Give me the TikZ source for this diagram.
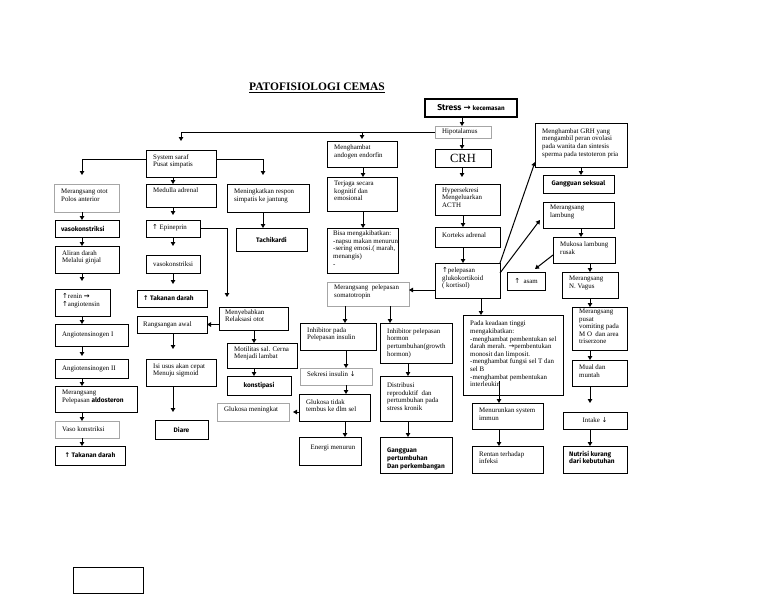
\documentclass[tikz,border=0pt]{standalone}
\usepackage{fontspec}
\setmainfont{Liberation Serif}
\newfontfamily\djf{DejaVu Sans}
\newfontfamily\fancyf{Fira Sans}
\usetikzlibrary{arrows.meta}
\newcommand\up{{\djf ↑}}
\newcommand\dn{{\djf ↓}}
\newcommand\rt{{\djf →}}
\newcommand\brt{{\djf\bfseries →}}
\newcommand\fb{\fancyf\bfseries\fontsize{6.5}{7.6}\selectfont}
\tikzset{
  box/.style={draw,line width=1pt,inner sep=0pt,outer sep=0pt},
  txt/.style={inner sep=0pt,align=left,font=\fontsize{6.9}{7.6}\selectfont},
  arr/.style={line width=1pt,-{Triangle[length=4pt,width=4.5pt]}},
  ln/.style={line width=1pt}
}
% #1 node opts, #2 label opts, #3 name, #4 x1, #5 y1, #6 x2, #7 y2, #8 text
\NewDocumentCommand\bx{O{}O{}mmmmmm}{%
  \pgfmathsetmacro\bw{#6-#4}\pgfmathsetmacro\bh{#7-#5}%
  \node[box,minimum width=\bw pt,minimum height=\bh pt,anchor=north west,
    label={[txt,anchor=west,xshift=7pt,yshift=2pt,#2]west:{#8}},#1] (#3) at (#4,#5) {};}
\NewDocumentCommand\bc{O{}O{}mmmmmm}{%
  \pgfmathsetmacro\bw{#6-#4}\pgfmathsetmacro\bh{#7-#5}%
  \node[box,minimum width=\bw pt,minimum height=\bh pt,anchor=north west,
    label={[txt,align=center,#2]center:{#8}},#1] (#3) at (#4,#5) {};}
\NewDocumentCommand\va{O{}mmm}{\coordinate (vx) at (#4,0); \draw[arr,#1] (#2.south -| vx) -- (#3.north -| vx);}
\begin{document}
\begin{tikzpicture}[x=1pt,y=-1pt]
\fill[white] (0,0) rectangle (768,594);
\useasboundingbox (0,0) rectangle (768,594);

\node[font=\bfseries\fontsize{11.5}{13}\selectfont,inner sep=0pt] (title) at (317,88) {\underline{PATOFISIOLOGI CEMAS}};

% right column
\bc[line width=1.6pt]{str}{425}{99}{517}{117}{{\fb\fontsize{8.5}{9}\selectfont Stress \brt\ {\fontsize{6.3}{6.5}\selectfont kecemasan}}}
\bx[draw=gray!70][yshift=-2pt]{hipo}{435}{126}{491}{138}{Hipotalamus}
\bc{crh}{435}{149}{491}{167}{{\fontsize{12.5}{13}\selectfont CRH}}
\bx{hyp}{435}{184}{500}{215}{Hypersekresi\\Mengeluarkan\\ACTH}
\bx{kor}{435}{227}{500}{247}{Korteks adrenal}
\bx{glk}{435}{263}{500}{298}{\up pelepasan\\glukokortikoid\\( kortisol)}
\bx{grh}{535}{123}{627}{167}{Menghambat GRH yang\\mengambil peran ovolasi\\pada wanita dan sintesis\\sperma pada testoteron pria}
\bc[][font=\fb]{gsk}{543}{175}{614}{193}{Gangguan seksual}
\bx[][yshift=1pt]{mlb}{543}{202}{614}{228}{Merangsang\\lambung}
\bx{muk}{553}{237}{615}{263}{Mukosa lambung\\rusak}
\bc{asam}{507}{272}{545}{290}{\up\ \ asam}
\bx{vag}{562}{272}{618}{298}{Merangsang\\N. Vagus}
\bx{vom}{572}{307}{627}{350}{Merangsang\\pusat\\vomiting pada\\M O~ dan area\\triserzone}
\bx{mual}{572}{360}{627}{386}{Mual dan\\muntah}
\bc{int}{563}{412}{627}{429}{Intake \dn}
\bx[][xshift=-1pt,font=\fb]{nut}{563}{446}{627}{473}{Nutrisi kurang\\dari kebutuhan}
\bx[][yshift=-1pt]{pada}{463}{315}{563}{395}{Pada keadaan tinggi\\mengakibatkan:\\-menghambat pembentukan sel\\darah merah. \rt pembentukan\\monosit dan limposit.\\-menghambat fungsi sel T dan\\sel B\\-menghambat pembentukan\\interleukin}
\bx{men}{472}{403}{543}{429}{Menurunkan system\\immun}
\bx{rtn}{472}{446}{543}{473}{Rentan terhadap\\infeksi}

% middle column
\bx{mae}{327}{141}{397}{167}{Menghambat\\andogen endorfin}
\bx[][yshift=1pt]{ter}{327}{177}{397}{211}{Terjaga secara\\kognitif dan\\emosional}
\bx[][xshift=-1pt]{bisa}{327}{228}{398}{273}{Bisa mengakibatkan:\\-napsu makan menurun\\-sering emosi.( marah,\\menangis)\\-}
\bx[draw=gray!70]{msom}{327}{282}{409}{306}{Merangsang~~pelepasan\\somatotropin}
\bx{inp}{300}{323}{376}{350}{Inhibitor pada\\Pelepasan insulin}
\bx[][yshift=-2pt]{inh}{380}{323}{452}{363}{Inhibitor pelepasan\\hormon\\pertumbuhan(growth\\hormon)}
\bx[draw=gray!70]{sek}{300}{368}{372}{385}{Sekresi insulin \dn}
\bx{glt}{299}{394}{370}{421}{Glukosa tidak\\tembus ke dlm sel}
\bx[draw=gray!70]{glm}{217}{403}{289}{421}{Glukosa meningkat}
\bc[][yshift=3pt,xshift=3pt]{ene}{299}{437}{361}{465}{Energi menurun}
\bx{dis}{380}{376}{452}{421}{Distribusi\\reproduktif~ dan\\pertumbuhan pada\\stress kronik}
\bx[][yshift=-6pt,font=\fb]{gpt}{380}{437}{452}{473}{Gangguan\\pertumbuhan\\Dan perkembangan}

% left part
\bx{sss}{146}{150}{216}{177}{System saraf\\Pusat simpatis}
\bx[draw=gray!70][yshift=1pt]{mo}{54}{184}{119}{212}{Merangsang otot\\Polos anterior}
\bx[][yshift=3pt]{med}{146}{184}{216}{207}{Medulla adrenal}
\bx{mening}{227}{184}{309}{212}{Meningkatkan respon\\simpatis ke jantung}
\bc[][font=\fb]{tach}{236}{228}{307}{251}{Tachikardi}
\bx[][xshift=-1pt,yshift=-2pt,font=\fb]{vk1}{55}{220}{119}{237}{vasokonstriksi}
\bx{ali}{55}{246}{119}{273}{Aliran darah\\Melalui ginjal}
\bx{rnn}{55}{289}{110}{316}{\up renin \brt\\\up angiotensin}
\bx[][yshift=-2pt]{ag1}{55}{324}{128}{346}{Angiotensinogen I}
\bx[][yshift=-2pt]{ag2}{55}{359}{128}{378}{Angiotensinogen II}
\bx{ald}{55}{386}{137}{412}{Merangsang\\Pelepasan {\fb aldosteron}}
\bx[draw=gray!70][yshift=-2pt]{vk2}{55}{421}{119}{438}{Vaso konstriksi}
\bc[][font=\fb]{td1}{55}{446}{125}{465}{\up\ Takanan darah}
\bx[][xshift=-1pt,yshift=-1pt]{epi}{146}{220}{200}{237}{\up\ Epineprin}
\bc{vk3}{146}{255}{200}{273}{vasokonstriksi}
\bx[][xshift=-1pt,yshift=-2pt,font=\fb]{td2}{137}{290}{207}{307}{\up\ Takanan darah}
\bx[][xshift=-1pt,yshift=-2pt]{rang}{137}{316}{207}{333}{Rangsangan awal}
\bx{isi}{146}{359}{216}{386}{Isi usus akan cepat\\Menuju sigmoid}
\bc[][font=\fb]{diare}{155}{420}{208}{439}{Diare}
\bx[][xshift=-1pt,yshift=1pt]{mny}{219}{307}{288}{330}{Menyebabkan\\Relaksasi otot}
\bx{mot}{227}{343}{297}{368}{Motilitas sal. Cerna\\Menjadi lambat}
\bc[][font=\fb]{kon}{227}{376}{291}{395}{konstipasi}

\node[box,minimum width=70pt,minimum height=26pt,anchor=north west] (blank) at (73,567) {};

% connectors
\draw[arr,shorten >=9pt] (hipo.west) -| (sss.north);
\draw[arr,shorten >=2pt] (hipo.west -| mae.north) -- (mae.north);
\coordinate (lx) at (82,0);
\draw[arr,shorten >=9pt] ([yshift=4pt]sss.west) -| (lx |- mo.north);
\coordinate (rx) at (263,0);
\draw[arr,shorten >=9pt] ([yshift=4pt]sss.east) -| (rx |- mening.north);
\coordinate (ex) at (227,0);
\draw[arr,shorten >=10pt] (epi.east) -| (ex |- mny.north);
\draw[arr] (mny.west |- rang.east) -- (rang.east);
\draw[arr] ([yshift=-9.5pt]glk.west) -- ([yshift=-9.5pt]glk.west -| msom.east);
\draw[arr,shorten >=4pt] (glt.west |- glm.east) -- (glm.east);
\draw[arr] (glk.north east) -- ([yshift=5pt]grh.south west);
\draw[arr] ([yshift=-10pt]glk.north east) -- ([xshift=-3pt,yshift=8pt]mlb.south west);
\draw[arr] ([yshift=8pt]muk.south west) -- ([xshift=-10pt,yshift=3pt]asam.north east);
\coordinate (px) at (499,0);
\draw[arr] ([yshift=14pt]pada.south -| px) -- (men.north -| px);

\va{str}{hipo}{462}
\va{hipo}{crh}{462}
\va[shorten >=7pt]{crh}{hyp}{462}
\va{hyp}{kor}{463}
\va{kor}{glk}{463}
\va{glk}{pada}{481}
\va{men}{rtn}{499}
\va{grh}{gsk}{581}
\va{mlb}{muk}{581}
\va{muk}{vag}{590}
\va{vag}{vom}{590}
\va{vom}{mual}{590}
\va[shorten >=9pt]{mual}{int}{590}
\va{int}{nut}{590}
\va{mae}{ter}{363}
\va{ter}{bisa}{363}
\va{msom}{inp}{345}
\va{msom}{inh}{390}
\va{inp}{sek}{346}
\va{sek}{glt}{346}
\va{glt}{ene}{345}
\va{inh}{dis}{408}
\va{dis}{gpt}{408}
\va{sss}{med}{173}
\va[shorten >=5pt]{med}{epi}{173}
\va[shorten >=9pt]{epi}{vk3}{173}
\va[shorten >=6pt]{vk3}{td2}{173}
\va[shorten >=10pt]{rang}{isi}{173}
\va[shorten >=8pt]{isi}{diare}{173}
\va{mny}{mot}{254}
\va{mot}{kon}{254}
\va{mening}{tach}{263}
\va{mo}{vk1}{82}
\va{vk1}{ali}{82}
\va[shorten >=8pt]{ali}{rnn}{82}
\va{rnn}{ag1}{82}
\va[shorten >=3pt]{ag1}{ag2}{82}
\va{ag2}{ald}{82}
\va{ald}{vk2}{82}
\va{vk2}{td1}{82}
\end{tikzpicture}
\end{document}
